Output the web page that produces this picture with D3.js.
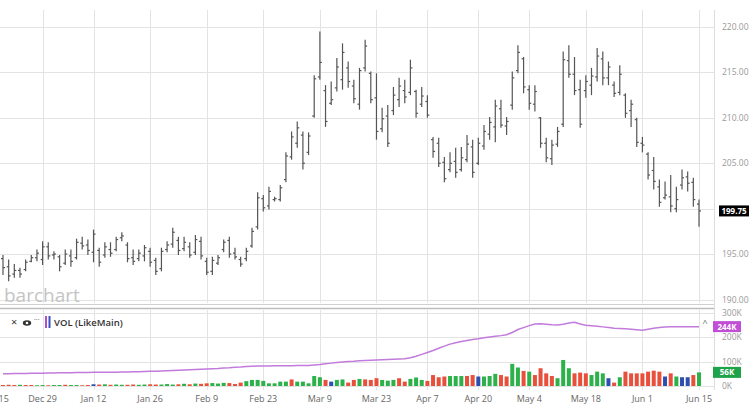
<!DOCTYPE html>
<html>
<head>
<meta charset="utf-8">
<script src="https://cdn.jsdelivr.net/npm/d3@7"></script>
<style>
  body { margin: 0; background: #fff; }
  svg { display: block; font-family: "Open Sans", "Noto Sans", sans-serif; }
</style>
</head>
<body>
<div id="chart"></div>
<script>
// daily OHLC, Dec 15 .. Jun 15 (one entry per trading day)
var open = [
194.5,193.6,192.8,193.2,193.3,194.2,194.6,194.4,195.8,194.9,
194.7,194.0,194.8,194.6,196.2,196.0,195.2,195.4,194.9,195.5,
195.5,196.8,196.0,194.6,194.5,194.8,195.3,194.3,193.4,195.5,
196.1,196.5,195.6,195.8,195.2,196.4,194.2,193.1,194.0,195.5,
196.5,195.1,194.4,194.5,195.9,198.0,201.1,200.3,201.0,201.0,
203.2,205.7,207.2,208.1,206.2,210.2,214.5,213.0,211.6,213.3,
214.2,215.5,213.5,211.5,215.5,214.9,212.2,208.8,210.2,210.8,
212.0,213.0,212.8,212.9,211.5,211.8,207.6,207.2,205.1,204.3,
205.2,204.3,205.4,206.8,205.0,206.9,208.2,209.0,211.0,209.1,
211.4,215.2,216.5,213.1,211.5,210.0,207.2,205.5,207.1,209.3,
216.3,214.8,213.1,213.0,213.6,214.5,216.5,214.4,213.6,212.8,
212.5,210.8,209.8,207.2,206.0,204.2,202.4,201.2,201.3,200.0,
202.6,203.5,202.9,200.5];
var high = [
194.9,194.4,193.9,193.5,194.4,194.9,195.5,196.4,196.3,195.3,
194.9,195.5,195.5,196.7,196.9,196.6,197.7,195.7,196.3,196.3,
196.9,197.4,196.3,195.5,195.5,196.0,195.7,194.6,195.7,196.4,
197.9,196.9,196.9,196.3,197.1,196.9,194.6,194.7,194.9,196.6,
196.9,195.7,194.7,195.7,197.9,201.8,201.5,202.4,201.3,202.6,
206.2,208.5,209.6,208.5,208.4,214.7,219.5,213.6,214.0,216.6,
218.2,216.2,214.2,215.5,218.6,215.1,214.9,211.1,211.4,213.4,
214.4,214.2,216.4,213.1,213.4,212.5,207.9,207.8,205.7,206.2,
206.7,206.8,208.1,207.6,207.8,209.2,210.1,212.0,212.0,210.1,
215.1,218.0,216.7,213.6,213.6,210.1,207.8,207.6,209.0,217.3,
218.0,216.7,214.2,214.7,215.5,217.7,217.3,216.2,214.0,215.8,
212.7,212.0,210.0,207.9,206.2,205.7,203.2,203.0,203.7,202.4,
204.3,204.1,203.4,201.0];
var low = [
192.7,192.0,192.4,192.4,193.1,194.1,194.2,193.8,194.4,194.4,
193.1,193.8,193.6,194.4,195.5,194.9,194.1,193.6,194.6,194.7,
195.3,196.4,194.1,193.8,194.2,194.2,193.6,192.7,193.1,195.2,
195.7,194.9,195.3,194.6,194.9,194.4,192.7,192.7,193.8,195.2,
194.6,194.4,193.6,194.2,195.7,197.7,199.7,199.9,200.8,200.8,
202.9,205.4,206.7,204.3,205.9,210.0,214.2,209.0,211.4,212.9,
213.1,213.3,211.6,210.9,215.1,211.6,207.6,208.4,206.8,210.3,
211.2,211.6,212.5,210.0,211.2,210.0,205.6,204.6,202.9,204.0,
203.4,204.1,205.1,203.4,204.8,206.5,207.6,207.3,208.9,208.1,
210.9,214.9,212.7,210.9,210.7,206.7,205.1,204.8,206.8,209.0,
214.4,212.5,208.9,212.2,212.5,214.0,213.6,213.6,212.3,212.5,
210.0,209.0,206.8,206.2,203.2,202.1,200.2,201.0,199.6,199.6,
202.1,201.9,200.2,198.0];
var close = [
193.5,192.6,193.2,192.8,194.1,194.6,195.1,195.8,194.8,195.0,
193.6,195.0,194.2,196.3,195.9,195.4,197.2,194.1,195.8,195.1,
196.6,197.0,194.5,194.2,195.1,195.7,194.1,193.1,195.3,196.0,
197.4,195.4,196.3,194.9,196.6,194.8,193.0,194.3,194.6,196.3,
195.0,194.7,193.9,195.3,197.5,201.2,200.1,201.9,201.1,202.3,
205.8,207.9,208.9,205.0,208.0,214.3,216.1,209.6,212.0,215.6,
217.2,214.0,212.1,215.2,217.9,212.0,208.5,209.9,207.2,212.5,
213.5,212.3,215.5,210.5,212.4,210.3,206.3,205.0,203.3,205.0,
204.0,205.6,207.1,204.0,207.2,208.5,209.5,211.3,209.2,209.6,
214.4,217.2,213.4,211.6,212.9,207.2,205.6,207.0,208.5,216.4,
214.8,213.0,209.3,214.0,214.6,216.8,214.4,215.6,212.7,214.8,
210.5,211.5,207.3,207.0,203.7,203.0,200.7,201.5,200.3,201.0,
203.4,202.8,201.0,199.75];

// volume in thousands, u = up day, d = down day, n = unchanged
var volume = [
4,5,4,5,4,4,3,4,3,4,
4,5,4,4,3,4,7,6,7,5,
6,5,5,6,5,6,7,6,6,8,
6,7,9,7,10,9,11,12,10,13,
12,8,14,20,25,25,21,11,11,18,
18,27,18,18,11,41,36,25,18,25,
27,14,25,29,27,25,32,25,22,25,
32,18,29,35,25,21,45,36,39,41,
41,41,41,45,39,39,41,50,45,39,
91,76,62,59,45,73,52,41,32,107,
73,52,55,52,45,59,52,32,14,36,
59,52,52,52,59,63,59,39,52,39,
36,36,45,56];
var volDir = [
"d","d","d","u","d","d","u","u","d","u",
"u","d","u","u","d","d","n","d","u","d",
"u","u","d","d","u","u","d","d","u","u",
"u","d","u","d","u","d","d","u","u","u",
"d","d","d","u","u","u","u","u","u","u",
"u","d","u","u","u","u","u","d","n","u",
"u","d","d","u","d","d","d","u","u","u",
"d","d","u","u","u","d","d","d","d","u",
"u","u","d","d","n","u","u","u","d","d",
"u","u","d","u","d","d","d","d","u","u",
"u","d","d","d","u","u","u","n","d","u",
"d","d","d","d","d","d","d","n","d","u",
"n","n","d","u"];
// VOL (LikeMain) line, thousands
var volLine = [
50,50,51,51,51,52,52,52,53,53,
54,54,54,55,55,55,56,56,56,57,
57,58,58,59,59,60,61,61,62,63,
64,65,66,67,68,69,70,71,72,74,
75,77,78,80,81,82,82,82,83,83,
83,83,84,84,84,86,88,91,94,97,
99,101,102,104,105,106,107,108,109,110,
111,112,116,122,130,138,146,155,164,172,
178,183,187,191,194,198,201,204,207,211,
220,232,240,248,255,256,254,252,251,254,
259,262,255,250,248,246,243,240,237,236,
235,233,231,229,233,237,240,242,243,243,
244,244,244,244];

var tickIdx = [-1.5, 7, 16, 26, 36, 46, 56, 66, 75, 84, 93, 103, 113, 123];
var tickLabels = ["Dec 15", "Dec 29", "Jan 12", "Jan 26", "Feb 9", "Feb 23", "Mar 9",
                  "Mar 23", "Apr 7", "Apr 20", "May 4", "May 18", "Jun 1", "Jun 15"];
var priceTicks = [190, 195, 200, 205, 210, 215, 220];
var volTicks = [0, 100, 200, 300];

var width = 750, height = 407;
var plotRight = 714;

var svg = d3.select("#chart")
    .append("svg")
    .attr("width", width)
    .attr("height", height);

svg.append("rect").attr("width", width).attr("height", height).attr("fill", "#fff");

var x = d3.scaleLinear().domain([0, close.length - 1]).range([3, 699]);
var y = d3.scaleLinear().domain([190, 220]).range([299.5, 27]);
var yv = d3.scaleLinear().domain([0, 300]).range([386, 313]);

var grid = "#e3e3e3";

// price pane grid
svg.append("g").selectAll("line")
    .data(priceTicks).enter().append("line")
    .attr("x1", 0).attr("x2", plotRight)
    .attr("y1", d => Math.round(y(d)) + 0.5).attr("y2", d => Math.round(y(d)) + 0.5)
    .attr("stroke", grid);
svg.append("g").selectAll("line")
    .data(tickIdx).enter().append("line")
    .attr("x1", d => Math.round(x(d)) + 0.5).attr("x2", d => Math.round(x(d)) + 0.5)
    .attr("y1", 10).attr("y2", 303)
    .attr("stroke", grid);

// volume pane grid
svg.append("g").selectAll("line")
    .data(volTicks).enter().append("line")
    .attr("x1", 0).attr("x2", plotRight)
    .attr("y1", d => Math.round(yv(d)) + 0.5).attr("y2", d => Math.round(yv(d)) + 0.5)
    .attr("stroke", grid);
svg.append("g").selectAll("line")
    .data(tickIdx).enter().append("line")
    .attr("x1", d => Math.round(x(d)) + 0.5).attr("x2", d => Math.round(x(d)) + 0.5)
    .attr("y1", 310).attr("y2", 390)
    .attr("stroke", grid);

// right border + pane separator
svg.append("line").attr("x1", plotRight + 0.5).attr("x2", plotRight + 0.5)
    .attr("y1", 10).attr("y2", 390).attr("stroke", "#ddd");
svg.append("line").attr("x1", 0).attr("x2", plotRight)
    .attr("y1", 304.5).attr("y2", 304.5).attr("stroke", "#d0d0d0");
svg.append("line").attr("x1", 0).attr("x2", plotRight)
    .attr("y1", 308.5).attr("y2", 308.5).attr("stroke", "#bdbdbd").attr("stroke-width", 1.5);

// watermark
svg.append("text")
    .attr("x", 4).attr("y", 302)
    .style("font-size", "19px")
    .attr("fill", "#c4c4c4")
    .text("barchart");

// OHLC bars
var bars = svg.append("g").attr("stroke", "#555").attr("stroke-width", 1.2);
var idx = d3.range(close.length);
bars.selectAll("line.hl")
    .data(idx).enter().append("line")
    .attr("x1", i => x(i)).attr("x2", i => x(i))
    .attr("y1", i => y(high[i])).attr("y2", i => y(low[i]));
bars.selectAll("line.o")
    .data(idx).enter().append("line")
    .attr("x1", i => x(i) - 2).attr("x2", i => x(i))
    .attr("y1", i => y(open[i])).attr("y2", i => y(open[i]));
bars.selectAll("line.c")
    .data(idx).enter().append("line")
    .attr("x1", i => x(i)).attr("x2", i => x(i) + 2)
    .attr("y1", i => y(close[i])).attr("y2", i => y(close[i]));

// price axis labels (the one under the last-price box is hidden)
var lastPrice = close[close.length - 1];
var lastY = y(lastPrice);
svg.append("g").selectAll("text")
    .data(priceTicks.filter(d => Math.abs(y(d) - lastY) > 8)).enter().append("text")
    .attr("x", 722).attr("y", d => y(d) + 3)
    .style("font-size", "8.5px")
    .attr("fill", "#999")
    .text(d => d3.format(".2f")(d));

// last price box
svg.append("rect")
    .attr("x", 719).attr("y", lastY - 5.5).attr("width", 30).attr("height", 11)
    .attr("fill", "#000");
svg.append("text")
    .attr("x", 734).attr("y", lastY + 3)
    .attr("text-anchor", "middle")
    .style("font-size", "8px").style("font-weight", "700")
    .attr("fill", "#fff")
    .text(d3.format(".2f")(lastPrice));

// volume bars
var volColor = { "u": "#2db24b", "d": "#e9503b", "n": "#2f4fb0" };
svg.append("g").selectAll("rect")
    .data(idx).enter().append("rect")
    .attr("x", i => x(i) - 2)
    .attr("width", 4)
    .attr("y", i => yv(volume[i]))
    .attr("height", i => yv(0) - yv(volume[i]))
    .attr("fill", i => volColor[volDir[i]]);

// vol line
var line = d3.line().x((d, i) => x(i)).y(d => yv(d));
svg.append("path")
    .datum(volLine)
    .attr("d", line)
    .attr("fill", "none")
    .attr("stroke", "#c27bdc")
    .attr("stroke-width", 1.5);

// volume axis labels
svg.append("g").selectAll("text")
    .data(volTicks).enter().append("text")
    .attr("x", 722).attr("y", d => yv(d) + 3)
    .style("font-size", "8.5px")
    .attr("fill", "#999")
    .text(d => d + "K");

var lastLine = volLine[volLine.length - 1];
svg.append("rect").attr("x", 713).attr("y", yv(lastLine) - 5.5)
    .attr("width", 28).attr("height", 11).attr("fill", "#c04fd6");
svg.append("text").attr("x", 727).attr("y", yv(lastLine) + 3)
    .attr("text-anchor", "middle")
    .style("font-size", "8px").style("font-weight", "700").attr("fill", "#fff")
    .text(lastLine + "K");

var lastVol = volume[volume.length - 1];
svg.append("rect").attr("x", 713).attr("y", yv(lastVol) - 5.5)
    .attr("width", 28).attr("height", 11).attr("fill", "#1fa34a");
svg.append("text").attr("x", 727).attr("y", yv(lastVol) + 3)
    .attr("text-anchor", "middle")
    .style("font-size", "8px").style("font-weight", "700").attr("fill", "#fff")
    .text(lastVol + "K");

// collapse caret
svg.append("text").attr("x", 705).attr("y", 326)
    .attr("text-anchor", "middle")
    .style("font-size", "9px").attr("fill", "#666")
    .text("^");

// legend
var leg = svg.append("g").attr("transform", "translate(0,322)");
leg.append("text").attr("x", 11).attr("y", 4)
    .style("font-size", "11px").attr("fill", "#333").text("×");
leg.append("ellipse").attr("cx", 27).attr("cy", 1).attr("rx", 4.2).attr("ry", 2.8)
    .attr("fill", "#333");
leg.append("circle").attr("cx", 27).attr("cy", 1).attr("r", 1.3).attr("fill", "#fff");
leg.append("text").attr("x", 34).attr("y", 0)
    .style("font-size", "7px").attr("fill", "#333").text("···");
leg.append("rect").attr("x", 45).attr("y", -6).attr("width", 2).attr("height", 12)
    .attr("fill", "#b04fd0");
leg.append("rect").attr("x", 48.5).attr("y", -6).attr("width", 2).attr("height", 12)
    .attr("fill", "#3a4fc0");
leg.append("text").attr("x", 54).attr("y", 4)
    .style("font-size", "9.5px").style("font-weight", "600").attr("fill", "#333")
    .text("VOL (LikeMain)");

// x axis labels
svg.append("g").selectAll("text")
    .data(tickIdx).enter().append("text")
    .attr("x", d => x(d)).attr("y", 402)
    .attr("text-anchor", "middle")
    .style("font-size", "9px")
    .attr("fill", "#666")
    .text((d, i) => tickLabels[i]);
</script>
</body>
</html>
